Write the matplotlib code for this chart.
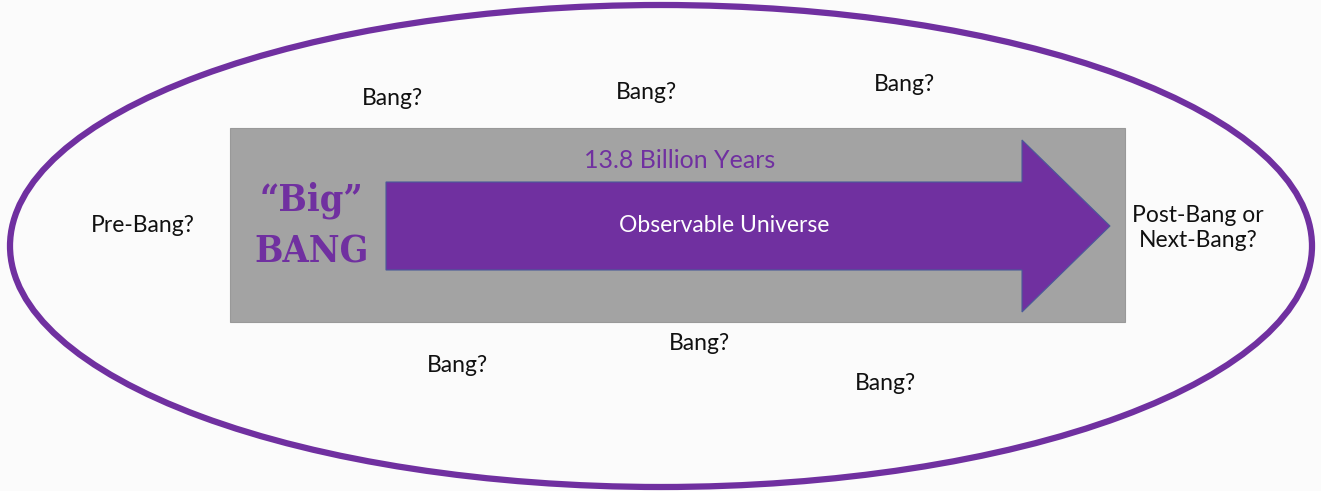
import matplotlib.pyplot as plt
from matplotlib import font_manager as fm
from matplotlib.patches import Ellipse, Rectangle, Polygon

# labels around the arrow
bang_labels = ["Bang?", "Bang?", "Bang?", "Bang?", "Bang?", "Bang?"]
bang_x = [392, 646, 904, 457, 699, 885]
bang_y = [98, 92, 84, 366, 343, 384]
side_labels = ["Pre-Bang?", "Post-Bang or\nNext-Bang?"]
side_x = [143, 1198]
side_y = [226, 228]
arrow_title = "13.8 Billion Years"
arrow_label = "Observable Universe"
origin_label = "\u201cBig\u201d\nBANG"

purple = "#7030a0"
grey = "#a3a3a3"

# pick the narrowest bold face that is around for the "Big BANG" title
names = {f.name for f in fm.fontManager.ttflist}
serif_cond = [f for f in fm.fontManager.ttflist
              if f.name == "DejaVu Serif" and "Condensed" in f.fname and "Bold" in f.fname]
if serif_cond:
    big_kw = dict(family="DejaVu Serif", fontstretch="condensed", fontsize=27)
elif "Roboto Condensed" in names:
    big_kw = dict(family="Roboto Condensed", fontsize=33)
elif "Liberation Sans Narrow" in names:
    big_kw = dict(family="Liberation Sans Narrow", fontsize=31)
else:
    big_kw = dict(family="DejaVu Serif", fontsize=24)

fig = plt.figure(figsize=(13.21, 4.91), dpi=100)
fig.patch.set_facecolor("#fbfbfb")
ax = fig.add_axes([0, 0, 1, 1])
ax.set_xlim(0, 1321)
ax.set_ylim(491, 0)
ax.axis("off")

ax.add_patch(Ellipse((661, 246), 1302, 482, fill=False, edgecolor=purple, lw=4.5))
ax.add_patch(Rectangle((230, 128), 895, 194, facecolor=grey, edgecolor="#999999", lw=0.8))
arrow = [(386, 182), (1022, 182), (1022, 140), (1110, 226),
         (1022, 312), (1022, 270), (386, 270)]
ax.add_patch(Polygon(arrow, closed=True, facecolor=purple, edgecolor="#4a5a9a", lw=0.8))

font = "Lato"
for t, x, y in zip(bang_labels, bang_x, bang_y):
    ax.text(x, y, t, ha="center", va="center", fontsize=16.5, family=font, color="#111111")
for t, x, y in zip(side_labels, side_x, side_y):
    ax.text(x, y, t, ha="center", va="center", fontsize=16.5, family=font,
            color="#111111", linespacing=1.2)

ax.text(680, 161, arrow_title, ha="center", va="center", fontsize=18, family=font, color=purple)
ax.text(724, 226, arrow_label, ha="center", va="center", fontsize=16.5, family=font, color="white")
ax.text(312, 226, origin_label, ha="center", va="center", fontweight="bold",
        color=purple, linespacing=1.5, **big_kw)

fig.savefig("out.png", dpi=100, facecolor=fig.get_facecolor())
